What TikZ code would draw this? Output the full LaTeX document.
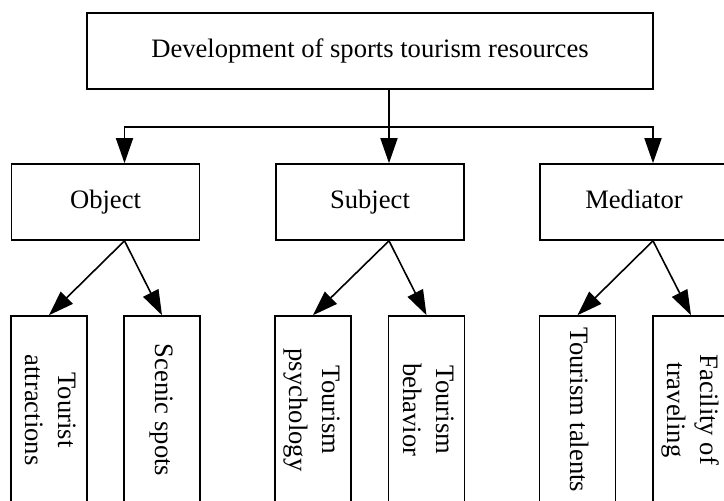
\documentclass[tikz,border=0pt]{standalone}
\usepackage{fontspec}
\setmainfont{Liberation Serif}
\usetikzlibrary{arrows.meta}
\newcommand{\vtext}[1]{\rotatebox{-90}{\begin{tabular}{@{}c@{}}#1\end{tabular}}}

\begin{document}
\begin{tikzpicture}[x=0.5pt,y=-0.5pt,
    box/.style={draw,line width=0.8pt,inner sep=0pt,font=\fontsize{13.3}{16.5}\selectfont},
    wide/.style={box,minimum width=283pt,minimum height=38pt,text height=9.5pt,text depth=3pt},
    mid/.style={box,minimum width=94pt,minimum height=38pt,text height=9.5pt,text depth=3pt},
    tall/.style={box,minimum width=38pt,minimum height=94pt},
    arr/.style={line width=0.8pt,-{Triangle[length=12.5pt,width=8.5pt]}}]
    \clip (0,0) rectangle (724,500);
    \node[wide] (dev) at (370,51) {Development of sports tourism resources};
    \node[mid] (object) at (105.5,202) {Object};
    \node[mid] (subject) at (370,202) {Subject};
    \node[mid] (mediator) at (634,202) {Mediator};
    \node[tall] (attractions) at (49,410) {\vtext{Tourist\\attractions}};
    \node[tall] (scenic) at (162,410) {\vtext{Scenic spots}};
    \node[tall] (psychology) at (313,410) {\vtext{Tourism\\psychology}};
    \node[tall] (behavior) at (426.5,410) {\vtext{Tourism\\behavior}};
    \node[tall] (talents) at (577.5,410) {\vtext{Tourism talents}};
    \node[tall] (facility) at (691,410) {\vtext{Facility of\\traveling}};
    \coordinate (fork) at (389,127);
    \draw[line width=0.8pt] ([xshift=9.5pt]dev.south) -- (fork);
    \draw[arr] (fork) -| ([xshift=9.5pt]object.north);
    \draw[arr] (fork) -- ([xshift=9.5pt]subject.north);
    \draw[arr] (fork) -| ([xshift=9.5pt]mediator.north);
    \draw[arr] ([xshift=9.5pt]object.south) -- (attractions.north);
    \draw[arr] ([xshift=9.5pt]object.south) -- (scenic.north);
    \draw[arr] ([xshift=9.5pt]subject.south) -- (psychology.north);
    \draw[arr] ([xshift=9.5pt]subject.south) -- (behavior.north);
    \draw[arr] ([xshift=9.5pt]mediator.south) -- (talents.north);
    \draw[arr] ([xshift=9.5pt]mediator.south) -- (facility.north);
\end{tikzpicture}
\end{document}
